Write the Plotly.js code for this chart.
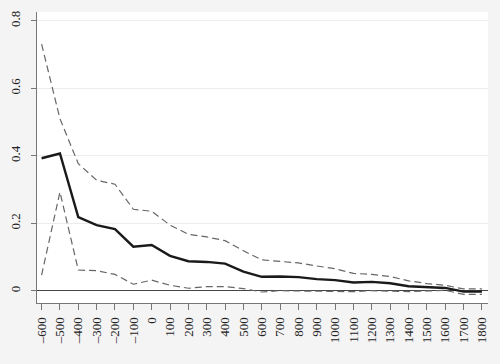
<!DOCTYPE html>
<html><head><meta charset="utf-8">
<script src="https://cdn.plot.ly/plotly-3.0.1.min.js"></script>
<style>html,body{margin:0;padding:0;background:#f4f4f4;}</style>
</head><body>
<div id="chart" style="width:500px;height:364px;"></div>
<script>
const years = [-600,-500,-400,-300,-200,-100,0,100,200,300,400,500,600,700,800,900,1000,1100,1200,1300,1400,1500,1600,1700,1800];
const estimate = [0.393,0.407,0.219,0.195,0.183,0.131,0.136,0.104,0.088,0.086,0.081,0.057,0.042,0.043,0.041,0.035,0.032,0.025,0.027,0.023,0.014,0.011,0.009,-0.002,-0.002];
const upperCI = [0.731,0.510,0.377,0.328,0.316,0.242,0.236,0.195,0.168,0.160,0.149,0.119,0.092,0.088,0.083,0.074,0.066,0.052,0.049,0.043,0.030,0.022,0.017,0.006,0.006];
const lowerCI = [0.047,0.293,0.062,0.060,0.049,0.020,0.032,0.017,0.008,0.013,0.013,0.007,-0.003,0.001,0.000,0.000,0.000,-0.002,0.001,0.000,-0.002,0.000,0.002,-0.010,-0.010];
const yTicks = [0,0.2,0.4,0.6,0.8];
const yTickText = ['0','0.2','0.4','0.6','0.8'];

const fam = 'Liberation Serif, DejaVu Serif, serif';
const tf = {family:fam, color:'#222', size:13};
const traces = [
  {x:years, y:upperCI, mode:'lines', line:{color:'#666', width:1.2, dash:'7px,4px'}, hoverinfo:'skip'},
  {x:years, y:lowerCI, mode:'lines', line:{color:'#666', width:1.2, dash:'7px,4px'}, hoverinfo:'skip'},
  {x:years, y:estimate, mode:'lines', line:{color:'#1a1a1a', width:2.4}}
];
const layout = {
  width:500, height:364,
  margin:{l:37, r:12, t:12, b:61},
  paper_bgcolor:'#f4f4f4', plot_bgcolor:'#ffffff',
  showlegend:false, font:{family:fam, color:'#222', size:13},
  xaxis:{range:[-625,1833], tickvals:years, ticktext:years.map(v=>v<0?'\u2013'+(-v):String(v)),
    tickangle:-90, ticks:'outside', ticklen:6, tickcolor:'#777', showgrid:false, zeroline:false,
    showline:true, linecolor:'#777', linewidth:1, tickfont:tf, ticklabelstandoff:2},
  yaxis:{range:[-0.0356,0.826], tickvals:yTicks, ticktext:yTickText, tickangle:-90,
    ticks:'outside', ticklen:5, tickcolor:'#777', showgrid:true, gridcolor:'#ececec', gridwidth:1,
    zeroline:true, zerolinecolor:'#444', zerolinewidth:1, showline:true, linecolor:'#777', linewidth:1,
    tickfont:tf, ticklabelstandoff:6}
};
Plotly.newPlot('chart', traces, layout, {displayModeBar:false, staticPlot:true});
</script>
</body></html>
